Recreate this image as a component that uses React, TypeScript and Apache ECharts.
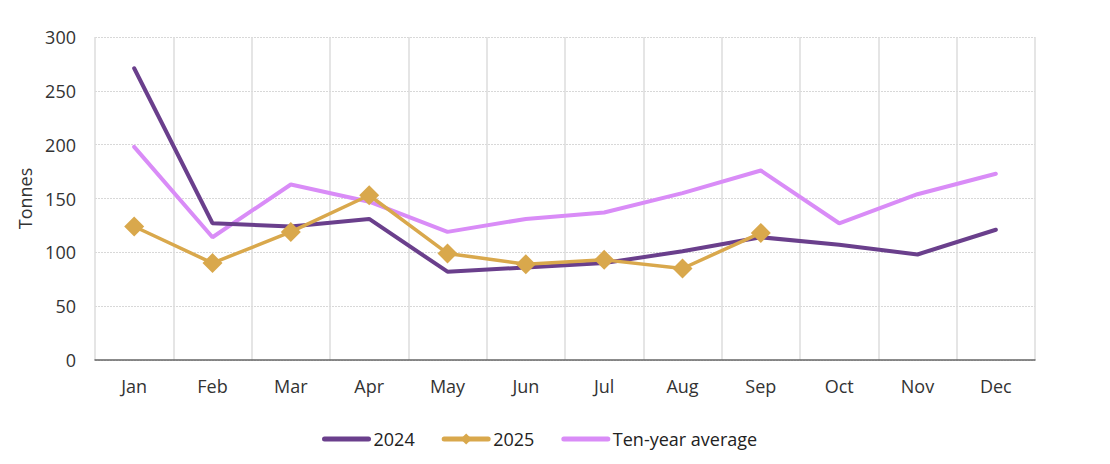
import React, { useEffect, useRef } from "react";
import * as echarts from "echarts";

const months = ["Jan", "Feb", "Mar", "Apr", "May", "Jun", "Jul", "Aug", "Sep", "Oct", "Nov", "Dec"];
const y2024 = [271, 127, 124, 131, 82, 86, 90, 101, 114, 107, 98, 121];
const y2025 = [124, 90, 119, 153, 99, 89, 93, 85, 118];
const tenYear = [198, 114, 163, 147, 119, 131, 137, 155, 176, 127, 154, 173];

const FONT = "'Open Sans', 'Noto Sans', sans-serif";

export default function App() {
  const ref = useRef<HTMLDivElement>(null);
  useEffect(() => {
    if (!ref.current) return;
    const chart = echarts.init(ref.current, undefined, { renderer: "svg" });
    chart.setOption({
      animation: false,
      textStyle: { fontFamily: FONT },
      grid: { left: 87, right: 67, top: 29, bottom: 96, outerBoundsMode: "none", containLabel: false },
      legend: {
        left: 309,
        top: 417,
        itemWidth: 44,
        itemHeight: 14,
        itemGap: 27,
        textStyle: { fontSize: 18, color: "#222", fontFamily: FONT },
        lineStyle: { width: 5, cap: "round" },
        data: [
          { name: "2024", itemStyle: { opacity: 0 } },
          { name: "2025" },
          { name: "Ten-year average", itemStyle: { opacity: 0 } },
        ],
      },
      xAxis: {
        type: "category",
        data: months,
        boundaryGap: true,
        axisLine: { lineStyle: { color: "#666", width: 1.5 } },
        axisTick: { show: false },
        axisLabel: { fontSize: 18, color: "#333", margin: 17, fontFamily: FONT },
        splitLine: { show: true, lineStyle: { color: "#dcdcdc", width: 1.5 } },
      },
      yAxis: {
        type: "value",
        min: 0,
        max: 300,
        interval: 50,
        name: "Tonnes",
        nameLocation: "middle",
        nameGap: 59,
        nameTextStyle: { fontSize: 18, color: "#333", fontFamily: FONT },
        axisLine: { show: false },
        axisTick: { show: false },
        axisLabel: { fontSize: 18, color: "#333", margin: 19, fontFamily: FONT },
        splitLine: { lineStyle: { color: "#d8d8d8", type: [2, 1], width: 1 } },
      },
      series: [
        {
          name: "2024",
          type: "line",
          data: y2024,
          symbol: "none",
          lineStyle: { color: "#6a3f8c", width: 4, cap: "round" },
          itemStyle: { color: "#6a3f8c" },
          z: 3,
        },
        {
          name: "2025",
          type: "line",
          data: y2025,
          symbol: "diamond",
          symbolSize: 20,
          lineStyle: { color: "#d9a84c", width: 3.5 },
          itemStyle: { color: "#d9a84c" },
          z: 4,
        },
        {
          name: "Ten-year average",
          type: "line",
          data: tenYear,
          symbol: "none",
          lineStyle: { color: "#d98cf7", width: 4, cap: "round" },
          itemStyle: { color: "#d98cf7" },
          z: 2,
        },
      ],
    });
    return () => chart.dispose();
  }, []);
  return <div ref={ref} style={{ width: "100%", height: 448 }} />;
}
